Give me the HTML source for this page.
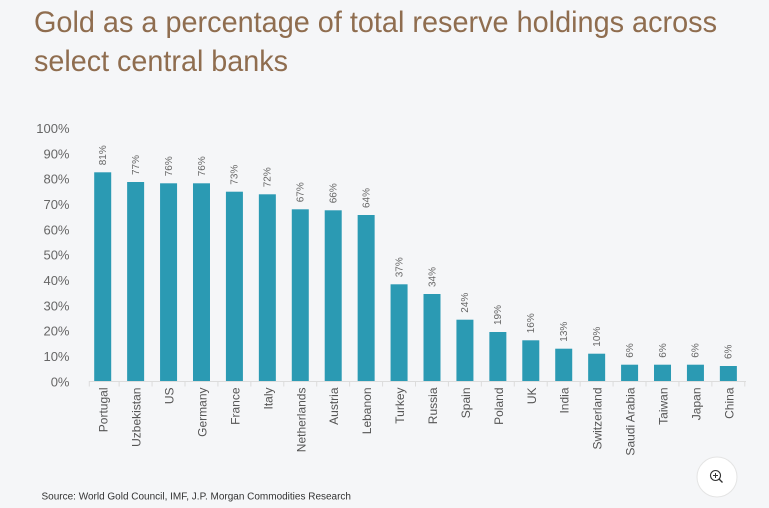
<!DOCTYPE html>
<html>
<head>
<meta charset="utf-8">
<style>
html,body{margin:0;padding:0;background:#f5f6f8;}
svg{display:block;}
text{font-family:"Liberation Sans",sans-serif;}
</style>
</head>
<body>
<svg width="769" height="508" viewBox="0 0 769 508" xmlns="http://www.w3.org/2000/svg">
<rect width="769" height="508" fill="#f5f6f8"/>
<text x="34" y="32" font-size="29.5" fill="#8f6d4f" textLength="683" lengthAdjust="spacingAndGlyphs">Gold as a percentage of total reserve holdings across</text>
<text x="34" y="71" font-size="29.5" fill="#8f6d4f" textLength="254" lengthAdjust="spacingAndGlyphs">select central banks</text>

<g font-size="13" fill="#666" text-anchor="end">
<text x="69.5" y="133">100%</text>
<text x="69.5" y="158.3">90%</text>
<text x="69.5" y="183.7">80%</text>
<text x="69.5" y="209">70%</text>
<text x="69.5" y="234.4">60%</text>
<text x="69.5" y="259.7">50%</text>
<text x="69.5" y="285">40%</text>
<text x="69.5" y="310.4">30%</text>
<text x="69.5" y="335.7">20%</text>
<text x="69.5" y="361">10%</text>
<text x="69.5" y="386.4">0%</text>
</g>

<g id="chart"></g>
<line x1="89" y1="381.5" x2="746" y2="381.5" stroke="#dcdcdc" stroke-width="1"/>

<text x="41.5" y="499.5" font-size="10" fill="#333" textLength="309.5" lengthAdjust="spacingAndGlyphs">Source: World Gold Council, IMF, J.P. Morgan Commodities Research</text>

<circle cx="717" cy="477" r="20" fill="#ffffff" stroke="#e4e4e4" stroke-width="1"/>
<circle cx="715.5" cy="475.5" r="5" fill="none" stroke="#333" stroke-width="1.1"/>
<line x1="719" y1="479" x2="722.5" y2="482.5" stroke="#333" stroke-width="1.3"/>
<line x1="713" y1="475.5" x2="718" y2="475.5" stroke="#333" stroke-width="1"/>
<line x1="715.5" y1="473" x2="715.5" y2="478" stroke="#333" stroke-width="1"/>

<g id="bars">
</g>
<script>
var names=["Portugal","Uzbekistan","US","Germany","France","Italy","Netherlands","Austria","Lebanon","Turkey","Russia","Spain","Poland","UK","India","Switzerland","Saudi Arabia","Taiwan","Japan","China"];
var vals=["81%","77%","76%","76%","73%","72%","67%","66%","64%","37%","34%","24%","19%","16%","13%","10%","6%","6%","6%","6%"];
var tops=[172.3,182,183.3,183.3,191.7,194.3,209.3,210.3,215,284.3,294,319.7,332,340.3,348.7,353.7,364.7,364.7,364.7,366];
var ns="http://www.w3.org/2000/svg";
var g=document.getElementById("bars");
function el(t,a,txt){var e=document.createElementNS(ns,t);for(var k in a)e.setAttribute(k,a[k]);if(txt)e.textContent=txt;g.appendChild(e);return e;}
for(var k=0;k<=20;k++){var tx=86.2+k*32.93;if(k==0)tx=89.3;el("line",{x1:tx,y1:381,x2:tx,y2:386.5,stroke:"#dcdcdc","stroke-width":1});}
for(var i=0;i<20;i++){
 var c=102.7+i*32.93;
 el("rect",{x:c-8.5,y:tops[i],width:17,height:381-tops[i],fill:"#2b9ab3"});
 el("text",{transform:"translate("+(c+3.3)+","+(tops[i]-7)+") rotate(-90)","font-size":"10",fill:"#666","text-anchor":"start"},vals[i]);
 el("text",{transform:"translate("+(c+5)+",387.5) rotate(-90)","font-size":"12",fill:"#555","text-anchor":"end"},names[i]);
}
</script>
</svg>
</body>
</html>
